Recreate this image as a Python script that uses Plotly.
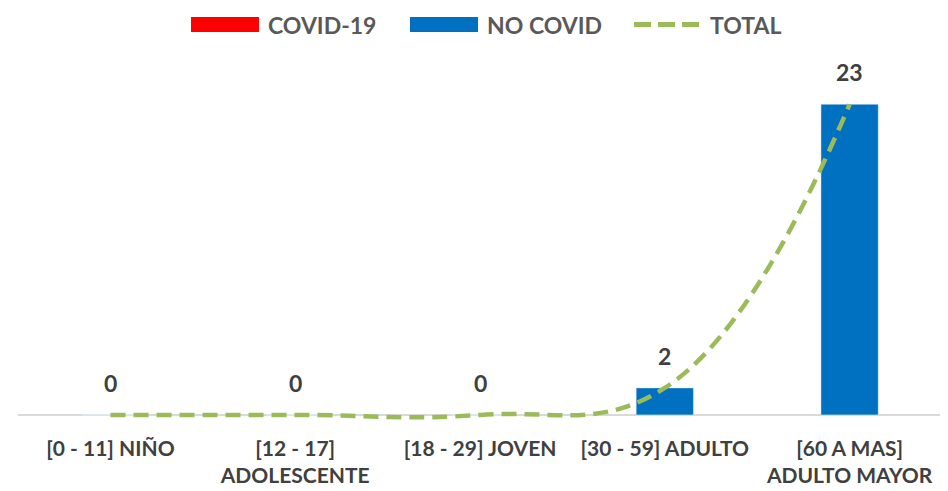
import plotly.graph_objects as go

categories = ["[0 - 11] NIÑO", "[12 - 17]<br>ADOLESCENTE", "[18 - 29] JOVEN",
              "[30 - 59] ADULTO", "[60 A MAS]<br>ADULTO MAYOR"]
covid = [0, 0, 0, 0, 0]
no_covid = [0, 0, 0, 2, 23]
total = [0, 0, 0, 2, 23]
series_names = ["COVID-19", "NO COVID", "TOTAL"]

# page body has an 8px margin; compensate so the chart sits like the reference
OX, OY = 8, 8
W, H = 940, 483
ML, MR, MT, MB = 10, 6, 49, 68
FONT = "Lato, 'Open Sans', sans-serif"
RED, BLUE, GREEN = "#FF0000", "#0070C0", "#9BBB59"

fig = go.Figure()
fig.add_trace(go.Bar(x=categories, y=covid, name=series_names[0], marker_color=RED,
                     width=0.31, showlegend=False))
fig.add_trace(go.Bar(x=categories, y=no_covid, name=series_names[1], marker_color=BLUE,
                     width=0.31, showlegend=False))
fig.add_trace(go.Scatter(x=categories, y=total, name=series_names[2], mode="lines",
                         line=dict(color=GREEN, width=4.5, dash="15px,8px",
                                   shape="spline", smoothing=1.2),
                         showlegend=False))

# value labels above each category
for c, v in zip(categories, total):
    fig.add_annotation(x=c, y=v, text=f"<b>{v}</b>", showarrow=False, yanchor="middle",
                       yshift=32, font=dict(family=FONT, size=23, color="#404040"))

# custom legend (Excel-style wide swatches), positions given in page pixels
pw = W - ML - MR
ph = H - MT - MB
def px(x):
    return (x - OX - ML) / pw
def py(y):
    return 1 - (y - OY - MT) / ph

legend_y = 24.5
swatches = [(191, 259, RED), (410, 478, BLUE)]
for (x0, x1, col) in swatches:
    fig.add_shape(type="rect", xref="paper", yref="paper", x0=px(x0), x1=px(x1),
                  y0=py(legend_y + 7.5), y1=py(legend_y - 7.5), fillcolor=col, line_width=0)
fig.add_shape(type="line", xref="paper", yref="paper", x0=px(634), x1=px(700),
              y0=py(legend_y), y1=py(legend_y),
              line=dict(color=GREEN, width=5, dash="17px,7px"))
for name, x in zip(series_names, [266, 485, 708]):
    fig.add_annotation(xref="paper", yref="paper", x=px(x), y=py(legend_y),
                       xanchor="left", yanchor="middle", text=f"<b>{name}</b>",
                       showarrow=False, font=dict(family=FONT, size=23, color="#595959"))

fig.update_layout(
    width=W, height=H,
    margin=dict(l=ML, r=MR, t=MT, b=MB, autoexpand=False),
    paper_bgcolor="white", plot_bgcolor="white",
    barmode="overlay",
    showlegend=False,
    xaxis=dict(type="category", range=[-0.5, 4.5], showgrid=False, showline=False,
               automargin=False,
               ticks="", tickfont=dict(family=FONT, size=21, color="#404040"),
               tickprefix="<b>", ticksuffix="</b>", ticklabelstandoff=11),
    yaxis=dict(range=[-0.6, 26.5], visible=True, showticklabels=False, showgrid=False,
               automargin=False,
               zeroline=True, zerolinecolor="#D9D9D9", zerolinewidth=1.5, showline=False),
)

fig.write_html("out.html")
